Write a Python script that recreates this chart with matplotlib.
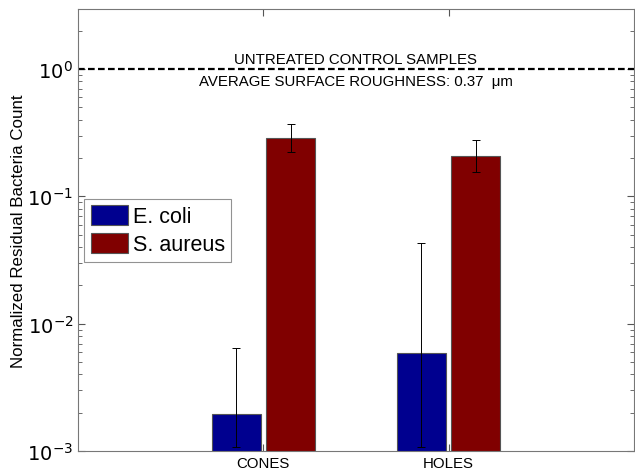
import matplotlib
matplotlib.use("Agg")
import matplotlib.pyplot as plt
import numpy as np
from matplotlib.ticker import LogLocator, NullFormatter

plt.rcParams['font.family'] = ['Liberation Sans', 'DejaVu Sans']

groups = ['CONES', 'HOLES']
ecoli = [0.00195, 0.00585]
ecoli_lo = [0.00107, 0.00107]
ecoli_hi = [0.0064, 0.043]
saureus = [0.289, 0.206]
saureus_lo = [0.222, 0.156]
saureus_hi = [0.371, 0.279]
control = 1.0

fig = plt.figure(figsize=(6.35, 4.77), dpi=100)
ax = fig.add_axes([0.123, 0.052, 0.875, 0.927])

x = np.arange(1, len(groups) + 1)
w = 0.265
off = 0.147

e_err = [np.array(ecoli) - np.array(ecoli_lo), np.array(ecoli_hi) - np.array(ecoli)]
s_err = [np.array(saureus) - np.array(saureus_lo), np.array(saureus_hi) - np.array(saureus)]

ax.bar(x - off, ecoli, w, color='#00008F', edgecolor='#555555', linewidth=0.8,
       label='E. coli')
ax.bar(x + off, saureus, w, color='#800000', edgecolor='#555555', linewidth=0.8,
       label='S. aureus')
ax.errorbar(x - off, ecoli, yerr=e_err, fmt='none', ecolor='black', elinewidth=0.7, capsize=3, capthick=0.7)
ax.errorbar(x + off, saureus, yerr=s_err, fmt='none', ecolor='black', elinewidth=0.7, capsize=3, capthick=0.7)

ax.axhline(control, color='black', linestyle='--', linewidth=1.6, dashes=(3, 1.5))
ax.text(1.5, 1.05, 'UNTREATED CONTROL SAMPLES', ha='center', va='bottom', fontsize=10.8)
ax.text(1.5, 0.92, 'AVERAGE SURFACE ROUGHNESS: 0.37  \u03bcm', ha='center', va='top', fontsize=10.8)

ax.set_yscale('log')
ax.set_ylim(1e-3, 2.95)
ax.set_xlim(0, 3)
ax.set_xticks(x)
ax.set_xticklabels(groups, fontsize=10.8)
ax.set_yticks([1e-3, 1e-2, 1e-1, 1e0])
ax.set_yticklabels(['$10^{-3}$', '$10^{-2}$', '$10^{-1}$', '$10^{0}$'], fontsize=14)
ax.yaxis.set_minor_locator(LogLocator(base=10, subs=np.arange(2, 10)))
ax.yaxis.set_minor_formatter(NullFormatter())
ax.tick_params(which='both', direction='in', top=True, right=True, color='#555555')
ax.tick_params(which='major', length=5)
ax.tick_params(which='minor', length=3)
for s in ax.spines.values():
    s.set_color('#777777')

ax.set_ylabel('Normalized Residual Bacteria Count', fontsize=12.2)
ax.yaxis.set_label_coords(-0.094, 0.5)

leg = ax.legend(loc='center left', bbox_to_anchor=(0.003, 0.5), fontsize=15.5, fancybox=False,
                edgecolor='#777777', handlelength=1.75, handleheight=1.05, handletextpad=0.2,
                borderpad=0.3, labelspacing=0.25, borderaxespad=0.2)
leg.get_frame().set_linewidth(0.8)

fig.savefig('out.png', dpi=100)
